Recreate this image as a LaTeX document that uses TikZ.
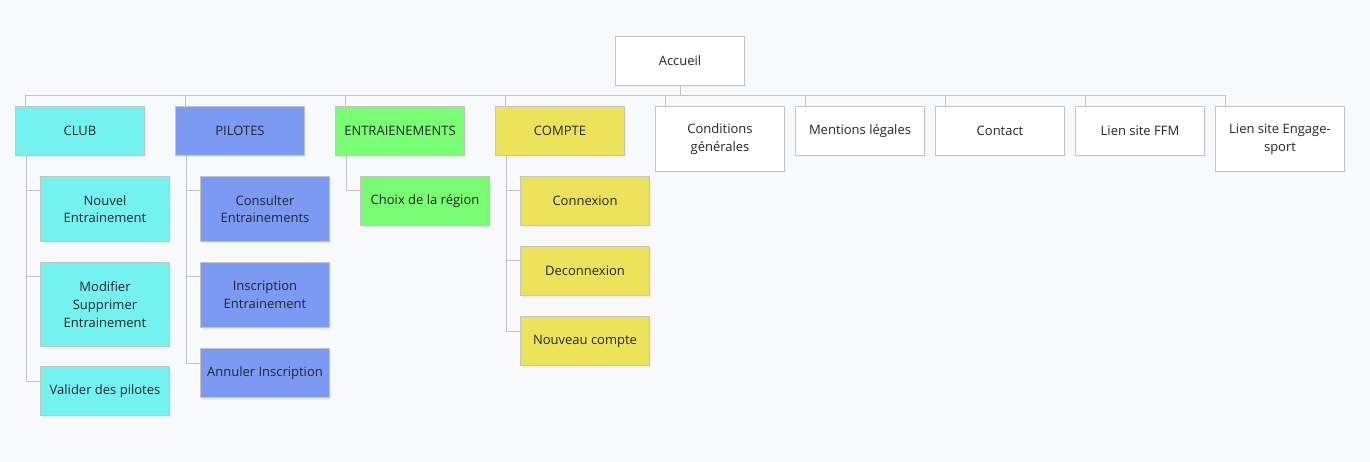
\documentclass[tikz,border=0pt]{standalone}
\usepackage{fontspec}
\setmainfont{Open Sans}
\usetikzlibrary{shadows}

\definecolor{bgcol}{HTML}{F8F9FA}
\definecolor{linecol}{HTML}{C4C4C4}
\definecolor{clubcol}{HTML}{74F2F0}
\definecolor{pilcol}{HTML}{7A9AF4}
\definecolor{entcol}{HTML}{78FD73}
\definecolor{cptcol}{HTML}{ECE35B}

\begin{document}
\begin{tikzpicture}[x=1pt, y=-1pt,
    % boxes of the site map
    page/.style={draw=linecol, line width=1pt, fill=white, anchor=north west,
        minimum width=129pt, minimum height=49pt, inner sep=2pt, align=center,
        font=\fontsize{13}{17.7}\selectfont, text=black!85,
        drop shadow={shadow xshift=1pt, shadow yshift=-2pt, opacity=0.08}},
    link/.style={draw=linecol, line width=1pt}]
    \fill[bgcol] (0,0) rectangle (1370,462);
    % root
    \node[page] (accueil) at (615,36) {Accueil};
    % first level
    \node[page, fill=clubcol] (club) at (15,106) {CLUB};
    \node[page, fill=pilcol] (pilotes) at (175,106) {PILOTES};
    \node[page, fill=entcol] (entr) at (335,106) {ENTRAIENEMENTS};
    \node[page, fill=cptcol] (compte) at (495,106) {COMPTE};
    \node[page, minimum height=65pt] (cond) at (655,106) {Conditions\\générales};
    \node[page] (mentions) at (795,106) {Mentions légales};
    \node[page] (contact) at (935,106) {Contact};
    \node[page] (ffm) at (1075,106) {Lien site FFM};
    \node[page, minimum height=65pt] (engage) at (1215,106) {Lien site Engage-\\sport};
    % club
    \node[page, fill=clubcol, minimum height=65pt] (nouvel) at (40,176) {Nouvel\\Entrainement};
    \node[page, fill=clubcol, minimum height=84pt] (modif) at (40,262) {Modifier\\Supprimer\\Entrainement};
    \node[page, fill=clubcol] (valider) at (40,366) {Valider des pilotes};
    % pilotes
    \node[page, fill=pilcol, minimum height=65pt] (consult) at (200,176) {Consulter\\Entrainements};
    \node[page, fill=pilcol, minimum height=65pt] (inscr) at (200,262) {Inscription\\Entrainement};
    \node[page, fill=pilcol] (annul) at (200,348) {Annuler Inscription};
    % entrainements
    \node[page, fill=entcol] (region) at (360,176) {Choix de la région};
    % compte
    \node[page, fill=cptcol] (connex) at (520,176) {Connexion};
    \node[page, fill=cptcol] (deconnex) at (520,246) {Deconnexion};
    \node[page, fill=cptcol] (nouvcpt) at (520,316) {Nouveau compte};
    % bus
    \coordinate (bus) at (0,96);
    \draw[link] (accueil.south) -- (accueil.south |- bus);
    \draw[link] ([xshift=10pt]club.north west) -- ([xshift=10pt,yshift=10pt]club.north west)
        -- ([xshift=10pt,yshift=10pt]engage.north west) -- ([xshift=10pt]engage.north west);
    \foreach \n in {pilotes,entr,compte,cond,mentions,contact,ffm}
        \draw[link] ([xshift=10pt]\n.north west) -- ([xshift=10pt,yshift=10pt]\n.north west);
    % sub pages
    \foreach \c in {nouvel,modif,valider}
        \draw[link] ([xshift=11pt]club.south west) |- ([yshift=-15pt]\c.north west);
    \foreach \c in {consult,inscr,annul}
        \draw[link] ([xshift=11pt]pilotes.south west) |- ([yshift=-15pt]\c.north west);
    \draw[link] ([xshift=11pt]entr.south west) |- ([yshift=-15pt]region.north west);
    \foreach \c in {connex,deconnex,nouvcpt}
        \draw[link] ([xshift=11pt]compte.south west) |- ([yshift=-15pt]\c.north west);
\end{tikzpicture}
\end{document}
